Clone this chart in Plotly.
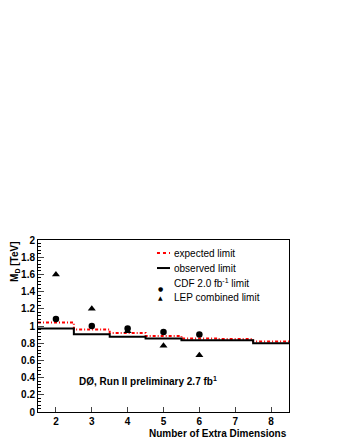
import plotly.graph_objects as go

dims = [2, 3, 4, 5, 6, 7, 8]
expected = [1.04, 0.96, 0.92, 0.885, 0.855, 0.85, 0.82]
observed = [0.97, 0.905, 0.875, 0.855, 0.835, 0.835, 0.80]

cdf_dims = [2, 3, 4, 5, 6]
cdf_limit = [1.08, 1.00, 0.97, 0.93, 0.90]

lep_dims = [2, 3, 4, 5, 6]
lep_limit = [1.60, 1.20, 0.94, 0.77, 0.66]

# step edges from 1.5 to 8.5
edges = [d - 0.5 for d in dims] + [dims[-1] + 0.5]
exp_y = expected + [expected[-1]]
obs_y = observed + [observed[-1]]

font = "Liberation Sans, Arial, sans-serif"
exp_dash = '3px,2px,1px,2px'

fig = go.Figure()
fig.add_trace(go.Scatter(x=edges, y=exp_y, mode='lines', line_shape='hv',
                         name='expected limit',
                         line=dict(color='red', width=2, dash=exp_dash)))
fig.add_trace(go.Scatter(x=edges, y=obs_y, mode='lines', line_shape='hv',
                         name='observed limit',
                         line=dict(color='black', width=2)))
fig.add_trace(go.Scatter(x=cdf_dims, y=cdf_limit, mode='markers',
                         name='CDF 2.0 fb<sup>-1</sup> limit',
                         marker=dict(symbol='circle', size=6.5, color='black')))
fig.add_trace(go.Scatter(x=lep_dims, y=lep_limit, mode='markers',
                         name='LEP combined limit',
                         marker=dict(symbol='triangle-up', size=7, color='black')))

# legend drawn by hand (ROOT-style tight spacing)
leg_y = [0.924, 0.837, 0.75, 0.663]
leg_text = ['expected limit', 'observed limit',
            'CDF 2.0 fb<sup>-1</sup> limit', 'LEP combined limit']
for yy, tt in zip(leg_y, leg_text):
    fig.add_annotation(x=0.534, y=yy, xref='paper', yref='paper', xanchor='left',
                       yanchor='middle', showarrow=False, text=tt,
                       font=dict(family=font, size=10, color='black'))
fig.add_shape(type='line', xref='paper', yref='paper', x0=0.474, x1=0.526,
              y0=leg_y[0], y1=leg_y[0], line=dict(color='red', width=2, dash='dot'))
fig.add_shape(type='line', xref='paper', yref='paper', x0=0.474, x1=0.526,
              y0=leg_y[1], y1=leg_y[1], line=dict(color='black', width=2))
fig.add_annotation(x=0.49, y=leg_y[2], xref='paper', yref='paper', showarrow=False,
                   text='●', font=dict(family='DejaVu Sans', size=6, color='black'))
fig.add_annotation(x=0.49, y=leg_y[3], xref='paper', yref='paper', showarrow=False,
                   text='▲', font=dict(family='DejaVu Sans', size=6, color='black'))

fig.add_annotation(x=0.155, y=0.18, xref='paper', yref='paper', xanchor='left',
                   yanchor='middle', showarrow=False,
                   text='<b>DØ, Run II preliminary 2.7 fb<sup>1</sup></b>',
                   font=dict(family=font, size=10, color='black'))
fig.add_annotation(x=-0.092, y=1.0, xref='paper', yref='paper', xanchor='center',
                   yanchor='top', textangle=-90, showarrow=False,
                   text='<b>M<sub>D</sub> [TeV]</b>',
                   font=dict(family=font, size=10, color='black'))
fig.add_annotation(x=1.0, y=-0.083, xref='paper', yref='paper', xanchor='right',
                   yanchor='top', showarrow=False,
                   text='<b>Number of Extra Dimensions</b>',
                   font=dict(family=font, size=10, color='black'))

fig.update_layout(
    width=340, height=440,
    margin=dict(l=30, r=59, t=232, b=36),
    plot_bgcolor='white', paper_bgcolor='white',
    font=dict(family=font, size=10, color='black'),
    showlegend=False,
)
fig.update_xaxes(range=[1.5, 8.5], tickvals=dims,
                 ticks='inside', ticklen=5, showline=True, linecolor='black',
                 linewidth=1, mirror=True, showgrid=False, zeroline=False,
                 tickfont=dict(size=10, weight='bold'))
fig.update_yaxes(range=[0, 2], dtick=0.2, tickformat='.1~f', ticks='inside', ticklen=6,
                 showline=True, linecolor='black', linewidth=1, mirror=True,
                 showgrid=False, zeroline=False, tickfont=dict(size=10, weight='bold'),
                 minor=dict(dtick=0.04, ticks='inside', ticklen=3, tickcolor='black'))

fig.write_html("out.html")
